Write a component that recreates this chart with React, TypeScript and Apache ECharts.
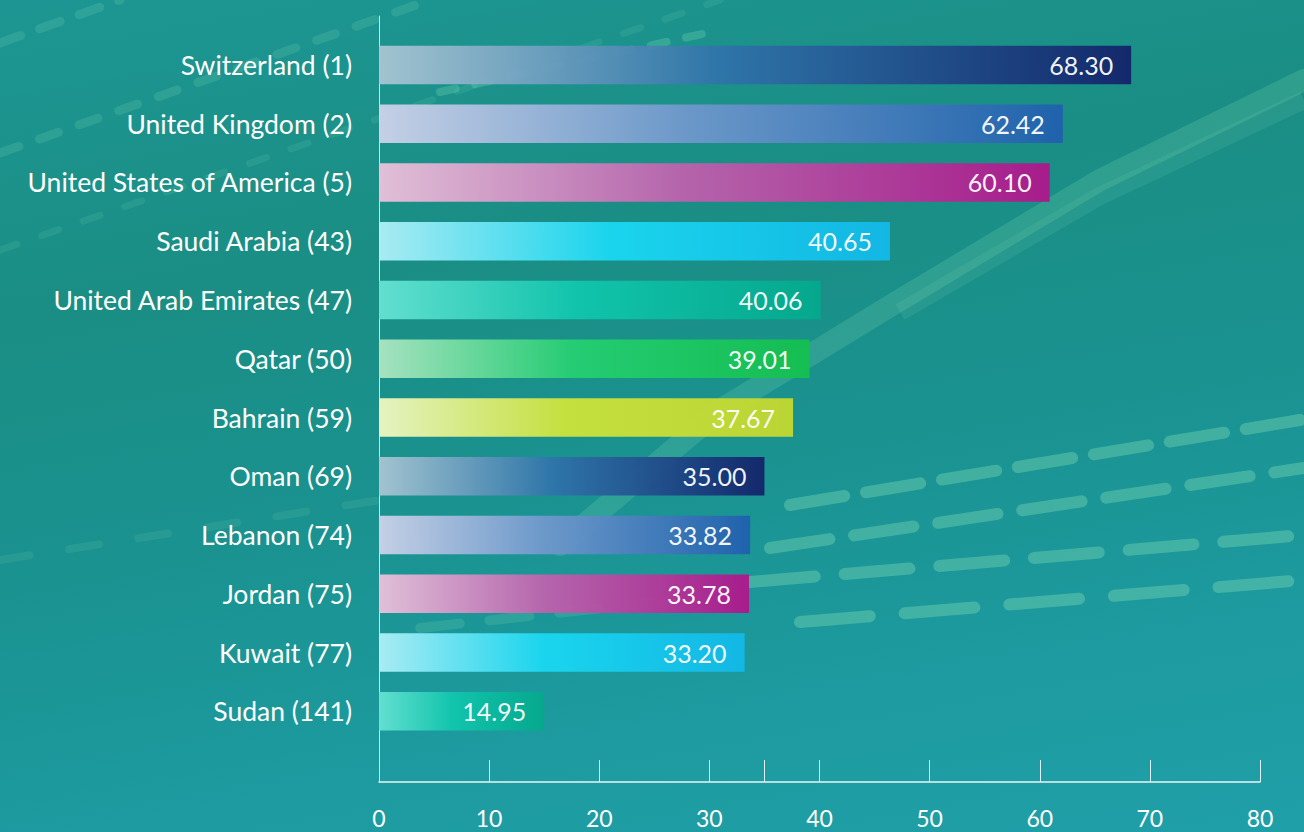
import React, { useEffect, useRef } from "react";
import * as echarts from "echarts";

const categories = [
  "Switzerland (1)",
  "United Kingdom (2)",
  "United States of America (5)",
  "Saudi Arabia (43)",
  "United Arab Emirates (47)",
  "Qatar (50)",
  "Bahrain (59)",
  "Oman (69)",
  "Lebanon (74)",
  "Jordan (75)",
  "Kuwait (77)",
  "Sudan (141)",
];

// Score printed on each bar
const scores = [68.3, 62.42, 60.1, 40.65, 40.06, 39.01, 37.67, 35.0, 33.82, 33.78, 33.2, 14.95];

// Bar length as drawn in the picture
const barLengths = [68.3, 62.1, 60.9, 46.4, 40.1, 39.1, 37.6, 35.0, 33.7, 33.6, 33.2, 15.0];

const xTickLabels = [0, 10, 20, 30, 40, 50, 60, 70, 80];
const xTickMarks = [10, 20, 30, 35, 40, 50, 60, 70, 80];

const palette = [
  ["#a9c6d3", "#2f74aa", "#13236a"],
  ["#cdd3ea", "#6f98cc", "#1f60ae"],
  ["#ebc2dc", "#bd62ad", "#ae168b"],
  ["#b0f0f8", "#1ad8f2", "#12b9e8"],
  ["#66e3d3", "#10c6ad", "#04a98c"],
  ["#ade6c3", "#25cf72", "#14c04e"],
  ["#f0f8c4", "#cde43a", "#c3d82f"],
];

const FONT = 'Lato, "Open Sans", "Noto Sans", sans-serif';

function dashedLine(points: number[][], width: number, dash: number[], color: string) {
  return {
    type: "polyline",
    silent: true,
    z: -10,
    shape: { points },
    style: { stroke: color, lineWidth: width, lineDash: dash, lineCap: "round", fill: "none" },
  };
}

export default function App() {
  const ref = useRef<HTMLDivElement>(null);

  useEffect(() => {
    if (!ref.current) return;
    const chart = echarts.init(ref.current, null, { renderer: "svg" });

    const barData = barLengths.map((v, i) => {
      const c = palette[i % palette.length];
      return {
        value: v,
        itemStyle: {
          opacity: 0.95,
          color: new echarts.graphic.LinearGradient(0, 0, 1, 0, [
            { offset: 0, color: c[0] },
            { offset: 0.45, color: c[1] },
            { offset: 1, color: c[2] },
          ]),
        },
      };
    });

    const mint = "rgba(120,215,178,0.42)";
    const mintSoft = "rgba(120,215,178,0.2)";

    chart.setOption({
      animation: false,
      backgroundColor: "transparent",
      graphic: [
        dashedLine([[0, 43], [120, 0]], 9, [22, 20], mintSoft),
        dashedLine([[0, 153], [430, 0]], 9, [20, 22], mintSoft),
        dashedLine([[0, 250], [720, 0]], 7, [18, 26], "rgba(120,215,178,0.14)"),
        dashedLine([[440, 92], [720, 30]], 8, [16, 20], "rgba(120,215,178,0.3)"),
        {
          type: "polyline",
          silent: true,
          z: -10,
          shape: { points: [[560, 545], [720, 410], [900, 300], [1100, 180], [1304, 80]] },
          style: { stroke: "rgba(110,205,170,0.26)", lineWidth: 22, lineCap: "round", fill: "none" },
        },
        {
          type: "polyline",
          silent: true,
          z: -10,
          shape: { points: [[900, 312], [1100, 196], [1304, 100]] },
          style: { stroke: "rgba(120,215,178,0.14)", lineWidth: 18, lineCap: "butt", fill: "none" },
        },
        dashedLine([[790, 505], [1300, 420]], 12, [55, 22], mint),
        dashedLine([[770, 548], [1304, 468]], 12, [60, 25], mint),
        dashedLine([[750, 582], [1304, 535]], 12, [65, 30], mint),
        dashedLine([[800, 622], [1304, 580]], 12, [70, 35], mint),
        dashedLine([[420, 628], [720, 595]], 10, [40, 30], mintSoft),
        dashedLine([[0, 560], [380, 500]], 8, [30, 40], "rgba(120,215,178,0.14)"),
      ],
      grid: [
        { left: 379, right: 44, top: 16, bottom: 50, containLabel: false },
        { left: 379, right: 44, top: 35.6, bottom: 91.3, containLabel: false },
      ],
      xAxis: [
        {
          gridIndex: 0,
          type: "value",
          min: 0,
          max: 80,
          interval: 10,
          splitLine: { show: false },
          axisLine: { show: true, lineStyle: { color: "rgba(255,255,255,0.9)", width: 1.5 } },
          axisTick: {
            show: true,
            inside: true,
            length: 22,
            customValues: xTickMarks,
            lineStyle: { color: "rgba(255,255,255,0.85)", width: 1 },
          },
          axisLabel: {
            show: true,
            customValues: xTickLabels,
            color: "#ffffff",
            fontFamily: FONT,
            fontSize: 23,
            margin: 24,
          },
        },
        {
          gridIndex: 1,
          type: "value",
          min: 0,
          max: 80,
          show: false,
          splitLine: { show: false },
        },
      ],
      yAxis: [
        {
          gridIndex: 0,
          type: "category",
          data: [""],
          axisLine: { show: true, lineStyle: { color: "rgba(255,255,255,0.75)", width: 1 } },
          axisTick: { show: false },
          axisLabel: { show: false },
          splitLine: { show: false },
        },
        {
          gridIndex: 1,
          type: "category",
          data: categories,
          inverse: true,
          axisLine: { show: false },
          axisTick: { show: false },
          splitLine: { show: false },
          axisLabel: {
            color: "#ffffff",
            fontFamily: FONT,
            fontSize: 26.5,
            margin: 27,
          },
        },
      ],
      series: [
        {
          type: "bar",
          xAxisIndex: 1,
          yAxisIndex: 1,
          data: barData,
          barWidth: 38.5,
          label: {
            show: true,
            position: "insideRight",
            distance: 18,
            color: "#ffffff",
            fontFamily: FONT,
            fontSize: 25,
            formatter: (p: any) => scores[p.dataIndex].toFixed(2),
          },
        },
      ],
    });

    return () => chart.dispose();
  }, []);

  return (
    <div
      style={{
        position: "fixed",
        left: 0,
        top: 0,
        width: 1304,
        height: 832,
        background:
          "linear-gradient(170deg, #1d9693 0%, #1a8e84 30%, #1a9290 55%, #1d9ba0 80%, #1f9fa8 100%)",
      }}
    >
      <div ref={ref} style={{ width: 1304, height: 832 }} />
    </div>
  );
}
